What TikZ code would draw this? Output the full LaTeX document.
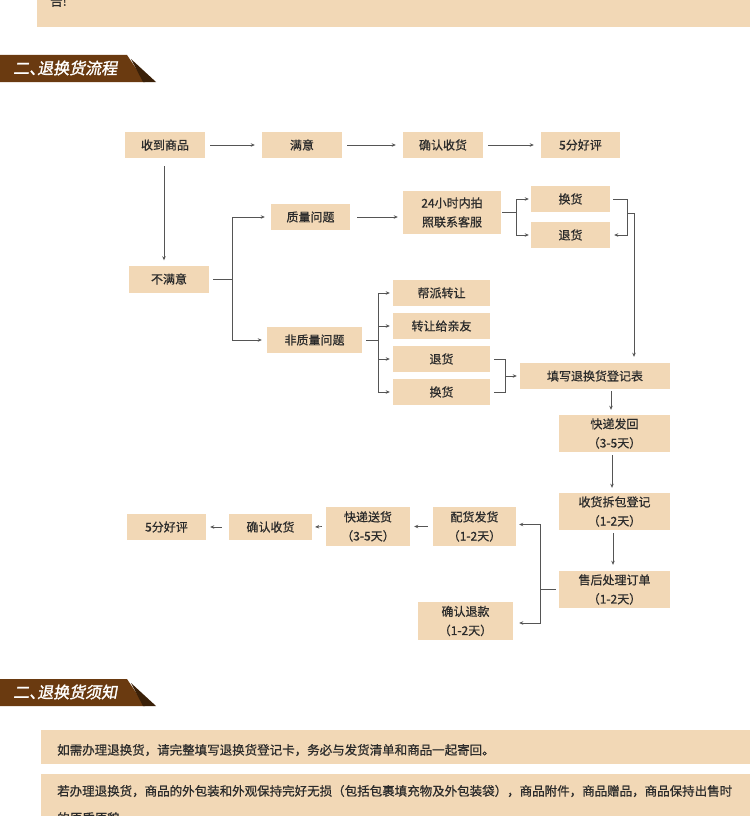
\documentclass[tikz,border=0pt]{standalone}
\usepackage{fontspec}
\setmainfont{Noto Sans CJK SC}
\newfontfamily\ribbonfont[FakeBold=1.5,FakeSlant=0.18]{Noto Sans CJK SC}
\newfontfamily\boxfont[FakeBold=0.6]{Noto Sans CJK SC}
\usetikzlibrary{calc,arrows.meta}
\definecolor{boxc}{HTML}{F2D8B6}
\definecolor{linec}{HTML}{555555}
\definecolor{txtc}{HTML}{2B2B2B}
\definecolor{ribc}{HTML}{6A3A10}
\definecolor{ribd}{HTML}{3A2008}
\tikzset{
 fbox/.style={fill=boxc, draw=none, inner sep=0pt, align=center, text=txtc, font=\boxfont\fontsize{12}{19}\selectfont},
 conn/.style={draw=linec, line width=0.7pt},
 arr/.style={conn, -{Stealth[length=4pt,width=3.5pt]}},
 ribtext/.style={font=\ribbonfont\fontsize{16}{16}\selectfont, text=white, anchor=west, inner sep=0pt},
 note/.style={anchor=west, inner sep=0pt, text=txtc, font=\boxfont\fontsize{12.5}{15}\selectfont},
}
\begin{document}
\begin{tikzpicture}[x=1pt,y=-1pt]
\clip (0,0) rectangle (750,816);
\fill[white] (0,0) rectangle (750,816);

% top strip
\fill[boxc] (37,-5) rectangle (750,27);
\node[note] (toptext) at (50,1) {告!};

% ribbon 1
\fill[ribc] (0,55) -- (127,55) -- (145,82) -- (0,82) -- cycle;
\fill[ribd] (131,59) -- (156,82) -- (143,82) -- cycle;
\node[ribtext] (rib1) at (13,68) {二、\kern-8pt退换货流程};

% row 1
\node[fbox, minimum width=80pt, minimum height=26pt] (r1a) at (165,145) {收到商品};
\node[fbox, minimum width=80pt, minimum height=26pt] (r1b) at (302,145) {满意};
\node[fbox, minimum width=80pt, minimum height=26pt] (r1c) at (443,145) {确认收货};
\node[fbox, minimum width=79pt, minimum height=26pt] (r1d) at (580.5,145) {5分好评};

\node[fbox, minimum width=80pt, minimum height=27pt] (nd) at (169,279) {不满意};
\node[fbox, minimum width=79pt, minimum height=26pt] (q) at (310.5,217) {质量问题};
\node[fbox, minimum width=95pt, minimum height=26pt] (nq) at (314.5,340) {非质量问题};
\node[fbox, minimum width=98pt, minimum height=43pt] (h24) at (452,212.5) {24小时内拍\\照联系客服};
\node[fbox, minimum width=79pt, minimum height=26pt] (hh1) at (570.5,199) {换货};
\node[fbox, minimum width=79pt, minimum height=26pt] (th1) at (570.5,235) {退货};

\node[fbox, minimum width=97pt, minimum height=26pt] (b1) at (441.5,293) {帮派转让};
\node[fbox, minimum width=97pt, minimum height=26pt] (b2) at (441.5,326) {转让给亲友};
\node[fbox, minimum width=97pt, minimum height=26pt] (b3) at (441.5,359) {退货};
\node[fbox, minimum width=97pt, minimum height=26pt] (b4) at (441.5,392) {换货};

\node[fbox, minimum width=150pt, minimum height=26pt] (tx) at (595,376) {填写退换货登记表};
\node[fbox, minimum width=111pt, minimum height=37pt] (kd) at (614.5,433.5) {快递发回\\（3-5天）};
\node[fbox, minimum width=111pt, minimum height=37pt] (sh) at (614.5,511.5) {收货拆包登记\\（1-2天）};
\node[fbox, minimum width=111pt, minimum height=37pt] (sp) at (614.5,589.5) {售后处理订单\\（1-2天）};

\node[fbox, minimum width=83pt, minimum height=39pt] (pf) at (474.5,526.5) {配货发货\\（1-2天）};
\node[fbox, minimum width=95pt, minimum height=38pt] (qt) at (465.5,621) {确认退款\\（1-2天）};
\node[fbox, minimum width=84pt, minimum height=39pt] (ks) at (368,526.5) {快递送货\\（3-5天）};
\node[fbox, minimum width=83pt, minimum height=26pt] (qr) at (270.5,527) {确认收货};
\node[fbox, minimum width=79pt, minimum height=26pt] (hp) at (166.5,527) {5分好评};

% connectors row 1
\draw[arr] ($(r1a.east)+(5,0)$) -- ($(r1b.west)+(-7,0)$);
\draw[arr] ($(r1b.east)+(5,0)$) -- ($(r1c.west)+(-7,0)$);
\draw[arr] ($(r1c.east)+(5,0)$) -- ($(r1d.west)+(-7,0)$);
\draw[arr] ($(r1a.south)+(-1,8)$) -- ($(nd.north)+(-5,-5)$);

% unsatisfied branch
\coordinate (j1) at (232,279);
\draw[conn] ($(nd.east)+(4,0)$) -- (j1);
\draw[arr] (j1) |- ($(q.west)+(-6,0)$);
\draw[arr] (j1) |- ($(nq.west)+(-5,0)$);

% quality branch
\draw[arr] ($(q.east)+(7,0)$) -- ($(h24.west |- q)+(-5,0)$);
\coordinate (j2) at (516,212.5);
\draw[conn] ($(h24.east)+(1,0)$) -- (j2);
\draw[arr] (j2) |- ($(hh1.west)+(-2,0)$);
\draw[arr] (j2) |- ($(th1.west)+(-2,0)$);
\coordinate (j4) at (627,213);
\draw[arr] ($(hh1.east)+(3,0)$) -| (j4 |- th1) -- ($(th1.east)+(4,0)$);
\draw[arr] (j4) -| ($(tx.north)+(39,-6)$);

% non-quality branch
\coordinate (j3) at (378,340);
\draw[conn] ($(nq.east)+(4,0)$) -- (j3);
\draw[conn] (j3 |- b1) -- (j3 |- b4);
\foreach \b in {b1,b2,b3,b4}{
  \draw[arr] (j3 |- \b) -- ($(\b.west)+(-3,0)$);
}
\coordinate (j5) at (505,376);
\draw[conn] ($(b3.east)+(4,0)$) -| (j5 |- b4) -- ($(b4.east)+(4,0)$);
\draw[arr] (j5) -- ($(tx.west)+(-3,0)$);

% right column
\draw[arr] ($(tx.south)+(16,2)$) -- ($(kd.north)+(-3.5,-5)$);
\draw[arr] ($(kd.south)+(-2.5,3)$) -- ($(sh.north)+(-2.5,-5)$);
\draw[arr] ($(sh.south)+(-1.5,3)$) -- ($(sp.north)+(-1.5,-6)$);
\coordinate (j6) at (540,589.5);
\draw[conn] ($(sp.west)+(-3,0)$) -- (j6);
\draw[arr] (j6) |- ($(pf.east)+(3,-2)$);
\draw[arr] (j6) |- ($(qt.east)+(6,2)$);

% bottom row
\draw[arr] ($(pf.west)+(-5,0)$) -- ($(ks.east)+(4,0)$);
\draw[arr] ($(ks.west)+(-4,0)$) -- ($(qr.east)+(3,0)$);
\draw[arr] ($(qr.west)+(-7,0)$) -- ($(hp.east)+(4,0)$);

% ribbon 2
\fill[ribc] (0,679) -- (127,679) -- (145,706) -- (0,706) -- cycle;
\fill[ribd] (131,683) -- (156,706) -- (143,706) -- cycle;
\node[ribtext] (rib2) at (13,692) {二、\kern-8pt退换货须知};

% notes
\fill[boxc] (41,730) rectangle (750,764);
\node[note] (n1) at (57,750) {如需办理退换货，请完整填写退换货登记卡，务必与发货清单和商品一起寄回。};
\fill[boxc] (41,774) rectangle (750,830);
\node[note] (n2) at (57,791) {若办理退换货，商品的外包装和外观保持完好无损（包括包裹填充物及外包装袋），商品附件，商品赠品，商品保持出售时};
\node[note] (n3) at (57,818) {的原质原貌};
\end{tikzpicture}
\end{document}
